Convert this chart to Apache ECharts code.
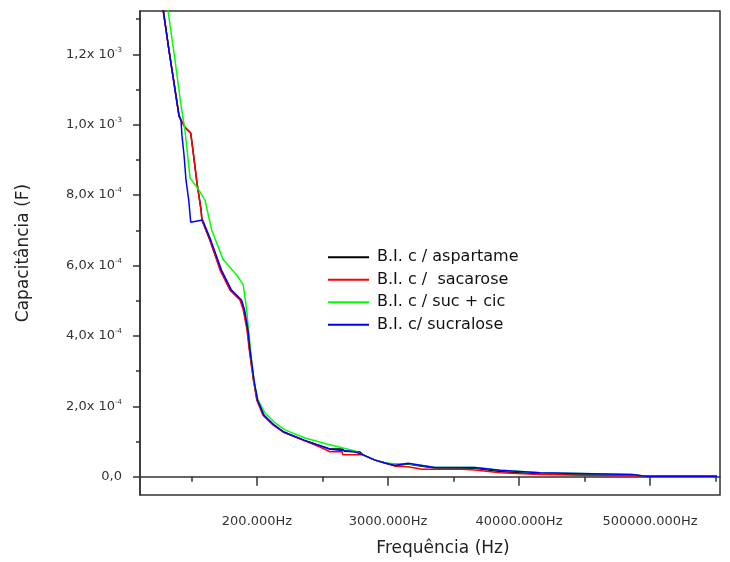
<!DOCTYPE html>
<html>
<head>
<meta charset="utf-8">
<script src="https://cdn.jsdelivr.net/npm/echarts@6/dist/echarts.min.js"></script>
<style>
  html, body { margin: 0; padding: 0; background: #fff; }
  #chart { width: 730px; height: 562px; }
</style>
</head>
<body>
<div id="chart"></div>
<script>
// x positions are in label slots: 1 = 200.000Hz, 2 = 3000.000Hz ...
// capacitance values are in units of 1e-4 F
var xLabelPos = [1, 2, 3, 4];
var xLabels = ["200.000Hz", "3000.000Hz", "40000.000Hz", "500000.000Hz"];
var xMinorPos = [0.5, 1.5, 2.5, 3.5, 4.5];

var yLabelPos = [0, 2, 4, 6, 8, 10, 12];
var yLabels = ["0,0", "2,0x 10{s|-4}", "4,0x 10{s|-4}", "6,0x 10{s|-4}", "8,0x 10{s|-4}", "1,0x 10{s|-3}", "1,2x 10{s|-3}"];
var yMinorPos = [1, 3, 5, 7, 9, 11, 13];

var seriesNames = ["B.I. c / aspartame", "B.I. c /  sacarose", "B.I. c / suc + cic", "B.I. c/ sucralose"];
var seriesColors = ["#000000", "#ff0000", "#00ff00", "#0000ff"];

var aspX = [0.275, 0.328, 0.405, 0.420, 0.450, 0.494, 0.511, 0.542, 0.573, 0.580, 0.641, 0.723, 0.799, 0.876, 0.900, 0.927, 0.944, 0.974, 1.001, 1.049, 1.126, 1.202, 1.355, 1.557, 1.649, 1.672, 1.786, 1.809, 1.901, 1.977, 2.053, 2.153, 2.260, 2.359, 2.664, 2.855, 3.160, 3.863, 3.962, 4.511];
var aspY = [13.49, 12.12, 10.25, 10.13, 9.93, 9.76, 9.28, 8.34, 7.58, 7.29, 6.72, 5.87, 5.30, 5.02, 4.74, 4.17, 3.60, 2.75, 2.18, 1.75, 1.47, 1.27, 1.04, 0.79, 0.79, 0.72, 0.70, 0.62, 0.47, 0.39, 0.32, 0.36, 0.30, 0.25, 0.24, 0.15, 0.08, 0.05, 0.02, 0.01];

var sacX = [0.275, 0.328, 0.405, 0.420, 0.450, 0.494, 0.511, 0.542, 0.573, 0.580, 0.641, 0.718, 0.794, 0.870, 0.895, 0.924, 0.941, 0.972, 0.998, 1.046, 1.122, 1.198, 1.351, 1.481, 1.557, 1.649, 1.656, 1.809, 1.901, 1.977, 2.053, 2.153, 2.260, 2.565, 2.664, 2.855, 3.160, 3.863, 3.962, 4.511];
var sacY = [13.49, 12.12, 10.25, 10.13, 9.93, 9.76, 9.28, 8.34, 7.58, 7.29, 6.72, 5.87, 5.30, 5.02, 4.74, 4.17, 3.60, 2.75, 2.18, 1.75, 1.47, 1.27, 1.04, 0.84, 0.71, 0.71, 0.62, 0.62, 0.47, 0.39, 0.30, 0.28, 0.21, 0.21, 0.19, 0.11, 0.06, 0.02, 0.01, 0.01];

var sucCicX = [0.309, 0.321, 0.374, 0.425, 0.450, 0.489, 0.557, 0.603, 0.654, 0.743, 0.845, 0.895, 0.921, 0.939, 0.958, 0.981, 1.008, 1.061, 1.137, 1.214, 1.366, 1.534, 1.649, 1.748, 1.809, 1.901, 1.977, 2.053, 2.153, 2.260, 2.359, 2.664, 2.855, 3.160, 3.863, 3.962, 4.511];
var sucCicY = [13.54, 13.23, 11.84, 10.42, 9.85, 8.49, 8.14, 7.86, 7.01, 6.16, 5.73, 5.45, 4.74, 4.03, 3.32, 2.61, 2.18, 1.81, 1.53, 1.33, 1.10, 0.93, 0.82, 0.73, 0.62, 0.47, 0.39, 0.37, 0.37, 0.32, 0.26, 0.26, 0.18, 0.11, 0.06, 0.01, 0.01];

var sucraX = [0.275, 0.328, 0.405, 0.420, 0.427, 0.443, 0.458, 0.479, 0.494, 0.585, 0.641, 0.729, 0.805, 0.882, 0.905, 0.931, 0.947, 0.977, 1.004, 1.053, 1.130, 1.206, 1.359, 1.557, 1.748, 1.809, 1.901, 1.977, 2.053, 2.153, 2.260, 2.359, 2.664, 2.855, 3.160, 3.863, 3.962, 4.511];
var sucraY = [13.49, 12.12, 10.25, 10.13, 9.71, 9.14, 8.43, 7.86, 7.23, 7.29, 6.78, 5.87, 5.30, 5.02, 4.74, 4.17, 3.60, 2.75, 2.18, 1.75, 1.47, 1.27, 1.04, 0.78, 0.71, 0.62, 0.47, 0.39, 0.32, 0.38, 0.32, 0.26, 0.26, 0.18, 0.11, 0.06, 0.01, 0.01];

function pairs(xs, ys) {
  return xs.map(function (x, i) { return [x, ys[i]]; });
}

function findLabel(pos, labels, v) {
  for (var i = 0; i < pos.length; i++) {
    if (Math.abs(pos[i] - v) < 1e-6) return labels[i];
  }
  return "";
}

var font = "DejaVu Sans";
var axisColor = "#333";
var xMin = 0.107, xMax = 4.534;
var yMin = -0.52, yMax = 13.23;

var chart = echarts.init(document.getElementById("chart"));

var lines = [[aspX, aspY], [sacX, sacY], [sucCicX, sucCicY], [sucraX, sucraY]].map(function (d, i) {
  return {
    type: "line",
    name: seriesNames[i],
    data: pairs(d[0], d[1]),
    symbol: "none",
    showSymbol: false,
    lineStyle: { color: seriesColors[i], width: 1.5 },
    itemStyle: { color: seriesColors[i] },
    animation: false
  };
});

chart.setOption({
  backgroundColor: "#fff",
  animation: false,
  grid: {
    left: 140, right: 10, top: 11, bottom: 67,
    show: true,
    borderColor: axisColor,
    borderWidth: 1.5
  },
  legend: {
    orient: "vertical",
    left: 328,
    top: 246,
    padding: 0,
    icon: "rect",
    itemWidth: 41,
    itemHeight: 2,
    itemGap: 0,
    data: seriesNames,
    textStyle: { fontFamily: font, fontSize: 16, color: "#111", lineHeight: 22.5, padding: [0, 0, 0, 3] }
  },
  xAxis: [
    {
      type: "value",
      min: xMin, max: xMax,
      name: "Frequência (Hz)",
      nameLocation: "middle",
      nameGap: 45,
      nameTextStyle: { fontFamily: font, fontSize: 17, color: "#222", padding: [0, 0, 0, 26] },
      axisLine: { show: true, lineStyle: { color: axisColor, width: 1.5 } },
      axisTick: { show: true, inside: false, length: 9, customValues: xLabelPos, lineStyle: { color: axisColor, width: 1.5 } },
      axisLabel: {
        customValues: xLabelPos,
        margin: 20,
        fontFamily: font, fontSize: 13, color: "#333",
        formatter: function (v) { return findLabel(xLabelPos, xLabels, v); }
      },
      splitLine: { show: false }
    },
    {
      type: "value",
      position: "bottom",
      offset: 0,
      min: xMin, max: xMax,
      axisLine: { show: false },
      axisTick: { show: true, inside: false, length: 5, customValues: xMinorPos, lineStyle: { color: axisColor, width: 1.5 } },
      axisLabel: { show: false },
      splitLine: { show: false }
    }
  ],
  yAxis: [
    {
      type: "value",
      min: yMin, max: yMax,
      name: "Capacitância (F)",
      nameLocation: "middle",
      nameGap: 108,
      nameTextStyle: { fontFamily: font, fontSize: 17, color: "#222" },
      axisLine: { show: true, lineStyle: { color: axisColor, width: 1.5 } },
      axisTick: { show: true, inside: false, length: 7, customValues: yLabelPos, lineStyle: { color: axisColor, width: 1.5 } },
      axisLabel: {
        customValues: yLabelPos,
        margin: 18,
        fontFamily: font, fontSize: 13, color: "#333",
        formatter: function (v) { return findLabel(yLabelPos, yLabels, v); },
        rich: {
          s: { fontFamily: font, fontSize: 7, color: "#333", verticalAlign: "top", lineHeight: 16, padding: [0, 0, 8, 0] }
        }
      },
      splitLine: { show: false }
    },
    {
      type: "value",
      position: "left",
      offset: 0,
      min: yMin, max: yMax,
      axisLine: { show: false },
      axisTick: { show: true, inside: false, length: 4, customValues: yMinorPos, lineStyle: { color: axisColor, width: 1.5 } },
      axisLabel: { show: false },
      splitLine: { show: false }
    }
  ],
  series: lines
});
</script>
</body>
</html>
